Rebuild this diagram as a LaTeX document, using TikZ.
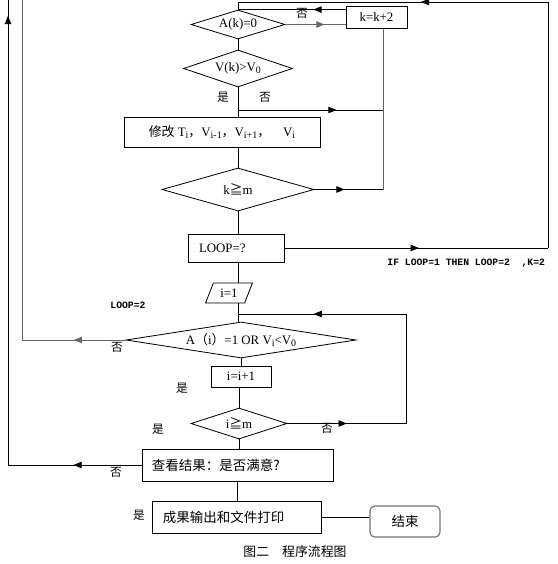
\documentclass[tikz,border=0pt]{standalone}
\usepackage{fontspec}
\setmainfont{Liberation Serif}
\newfontfamily\cjk{Noto Sans CJK SC}
\newfontfamily\mono{Liberation Mono}
\usetikzlibrary{shapes.geometric, arrows.meta, decorations.markings}
\newcommand\idx[1]{\raisebox{-0.25ex}{\fontsize{8.5}{10}\selectfont #1}}

\begin{document}
\begin{tikzpicture}[
    x=0.03cm, y=-0.03cm, line width=0.7pt,
    box/.style   = {draw, inner sep=0pt, font=\fontsize{11}{13}\selectfont},
    dia/.style   = {diamond, draw, inner sep=0pt, font=\fontsize{11}{13}\selectfont},
    cbox/.style  = {box, align=left, font=\cjk\fontsize{11.5}{14}\selectfont},
    lbl/.style   = {font=\cjk\fontsize{10}{12}\selectfont, inner sep=0pt},
    note/.style  = {font=\mono\bfseries\fontsize{8.3}{10}\selectfont, inner sep=0pt},
    flow/.style  = {postaction={decorate}, decoration={markings,
                    mark=at position #1 with {\arrow{Triangle[length=7pt, width=5.5pt]}}}},
    gline/.style = {draw=black!60},
  ]
    \def\px{0.03cm}
    \useasboundingbox (0,0) rectangle (557,564);

    % ── k loop ──
    \node[dia, aspect=3.2, minimum width=94*\px, minimum height=29*\px] (ak) at (238,24.5) {A(k)=0};
    \node[box, minimum width=61*\px, minimum height=22*\px] (kk) at (376.5,17.5) {k=k+2};
    \node[dia, aspect=3, minimum width=109*\px, minimum height=37*\px] (vk) at (238,68.5) {V(k)>V\idx{0}};
    \node[box, minimum width=196*\px, minimum height=30*\px] (mod) at (222,132)
      {{\cjk 修改} T\idx{i}{\cjk ，}V\idx{i-1}{\cjk ，}V\idx{i+1}{\cjk ，}\quad V\idx{i}};
    \node[dia, aspect=3.5, minimum width=152*\px, minimum height=43*\px] (km) at (238,189.5) {k{\cjk ≧}m};
    \node[box, align=left, text width=2.22cm, inner xsep=11*\px, minimum height=28*\px] (loop) at (236,248) {LOOP=?};

    % ── i loop ──
    \node[trapezium, draw, trapezium left angle=63, trapezium right angle=117, trapezium stretches=true,
          minimum width=47*\px, minimum height=20*\px, inner sep=0pt, font=\fontsize{11}{13}\selectfont] (i1) at (229,293) {i=1};
    \node[dia, aspect=6.4, minimum width=230*\px, minimum height=36*\px] (ai) at (241,340)
      {A{\cjk （}i{\cjk ）}=1 OR V\idx{i}<V\idx{0}};
    \node[box, minimum width=60*\px, minimum height=21*\px] (ii) at (241,376.5) {i=i+1};
    \node[dia, aspect=3.1, minimum width=96*\px, minimum height=31*\px] (im) at (239,423.5) {i{\cjk ≧}m};

    % ── result ──
    \node[cbox, text width=5.13cm, inner xsep=10*\px, minimum height=32*\px] (chk) at (237.5,465) {查看结果：是否满意?};
    \node[cbox, text width=4.41cm, inner xsep=11*\px, minimum height=32*\px] (out) at (236.5,517) {成果输出和文件打印};
    \node[box, rounded corners=4pt, draw=black!55, line width=1pt, minimum width=70*\px, minimum height=31*\px,
          font=\cjk\fontsize{11.5}{14}\selectfont] (fin) at (405,521.5) {结束};

    % labels
    \node[lbl] (n1) at (302,13) {否};
    \node[lbl] (y1) at (223,97) {是};
    \node[lbl] (n2) at (265,97) {否};
    \node[note, anchor=west] (ifn) at (387,263) {IF LOOP=1 THEN LOOP=2\ \ ,K=2};
    \node[note] (lp2) at (128,305) {LOOP=2};
    \node[lbl] (n3) at (117,347) {否};
    \node[lbl] (y2) at (182,388) {是};
    \node[lbl] (y3) at (158,429) {是};
    \node[lbl] (n4) at (327,428) {否};
    \node[lbl] (n5) at (116,472) {否};
    \node[lbl] (y4) at (139,515) {是};
    \node[font=\cjk\fontsize{11}{13}\selectfont] (cap) at (295,552) {图二　程序流程图};

    \coordinate (sp) at (238,0);
    \coordinate (tr) at (548,2);
    \coordinate (rb) at (383,189.5);
    \coordinate (vj) at (238,110);
    \coordinate (aj) at (238,314);
    \coordinate (ir) at (406,423.5);
    \coordinate (lo) at (8,0);
    \coordinate (ll) at (22,0);

    % ── spine ──
    \draw (ak.south) -- (vk.north);
    \draw (vk.south) -- (sp |- mod.north);
    \draw (sp |- mod.south) -- (km.north);
    \draw (km.south) -- (sp |- loop.north);
    \draw (sp |- loop.south) -- (sp |- i1.north);
    \draw (sp |- i1.south) -- (sp |- ai.north);
    \draw (ai.south) -- (ii.north);
    \draw (im.north |- ii.south) -- (im.north);
    \draw (im.south) -- (im.south |- chk.north);
    \draw (chk.south) -- (chk.south |- out.north);
    \draw (out.east) -- (out.east -| fin.west);

    % ── k loop connectors ──
    \draw[flow=0.51] (loop.east) -- (loop.east -| tr);
    \draw (loop.east -| tr) -- (tr);
    \draw[flow=0.41] (tr) -- (tr -| ak.north);
    \draw (tr -| ak.north) -- (ak.north);
    \draw[flow=0.3] (ak.north -| kk.west) -- (ak.north);
    \draw[gline, flow=0.65] (ak.east) -- (ak.east -| kk.west);
    \draw[gline] (kk.south -| rb) -- (rb);
    \draw[flow=0.44] (km.east) -- (rb);
    \draw[flow=0.68] (vj) -- (vj -| rb);

    % ── i loop connectors ──
    \draw[flow=0.5] (im.east) -- (ir);
    \draw (ir) -- (ir |- aj);
    \draw[flow=0.55] (ir |- aj) -- (aj);
    \draw[gline, flow=0.5] (ai.west) -- (ai.west -| ll);
    \draw[gline] (ai.west -| ll) -- (ll);
    \draw[flow=0.51] (chk.west) -- (chk.west -| lo);
    \draw[flow=0.966] (chk.west -| lo) -- (lo);
\end{tikzpicture}
\end{document}
